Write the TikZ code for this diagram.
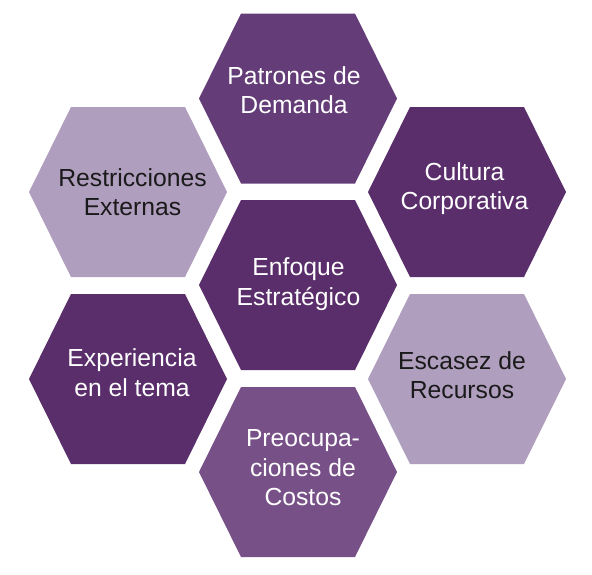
\documentclass[tikz,border=0pt]{standalone}
\usepackage{fontspec}
\setmainfont{Liberation Sans}
\definecolor{cMid}{HTML}{643D78}
\definecolor{cDark}{HTML}{5A2D6B}
\definecolor{cLight}{HTML}{B09EBE}
\definecolor{cCost}{HTML}{775087}
\definecolor{cInk}{HTML}{1A1A1A}
\tikzset{
  x=1pt, y=-1pt,
  pics/hexa/.style={code={\fill[#1] (-99,0) -- (-57,-85) -- (57,-85) -- (99,0) -- (57,85) -- (-57,85) -- cycle;}},
  lbl/.style={align=center, text depth=0pt, inner sep=0pt,
    font=\fontsize{24.7}{29.5}\selectfont},
  wlbl/.style={lbl, text=white},
  klbl/.style={lbl, text=cInk}
}
\begin{document}
\begin{tikzpicture}
\useasboundingbox[fill=white] (0,0) rectangle (592,574);
% hexagon centres
\coordinate (hTop) at (298,98.5);
\coordinate (hMid) at (298,285);
\coordinate (hUL) at (128,192);
\coordinate (hUR) at (467,192);
\coordinate (hLL) at (128,379);
\coordinate (hLR) at (467,379);
\coordinate (hBot) at (298,472);
\pic at (hTop) {hexa=cMid};
\pic at (hMid) {hexa=cDark};
\pic at (hUL) {hexa=cLight};
\pic at (hUR) {hexa=cDark};
\pic at (hLL) {hexa=cDark};
\pic at (hLR) {hexa=cLight};
\pic at (hBot) {hexa=cCost};
% labels
\node[wlbl] (tTop) at (294,90) {Patrones de\\Demanda};
\node[wlbl] (tMid) at (298.5,281.5) {Enfoque\\Estratégico};
\node[klbl] (tUL) at (132.5,192) {Restricciones\\Externas};
\node[wlbl] (tUR) at (464.5,186) {Cultura\\Corporativa};
\node[wlbl] (tLL) at (132,372.5) {Experiencia\\en el tema};
\node[klbl] (tLR) at (462,375) {Escasez de\\Recursos};
\node[wlbl] (tBot) at (303,467.5) {Preocupa-\\ciones de\\Costos};
\end{tikzpicture}
\end{document}
